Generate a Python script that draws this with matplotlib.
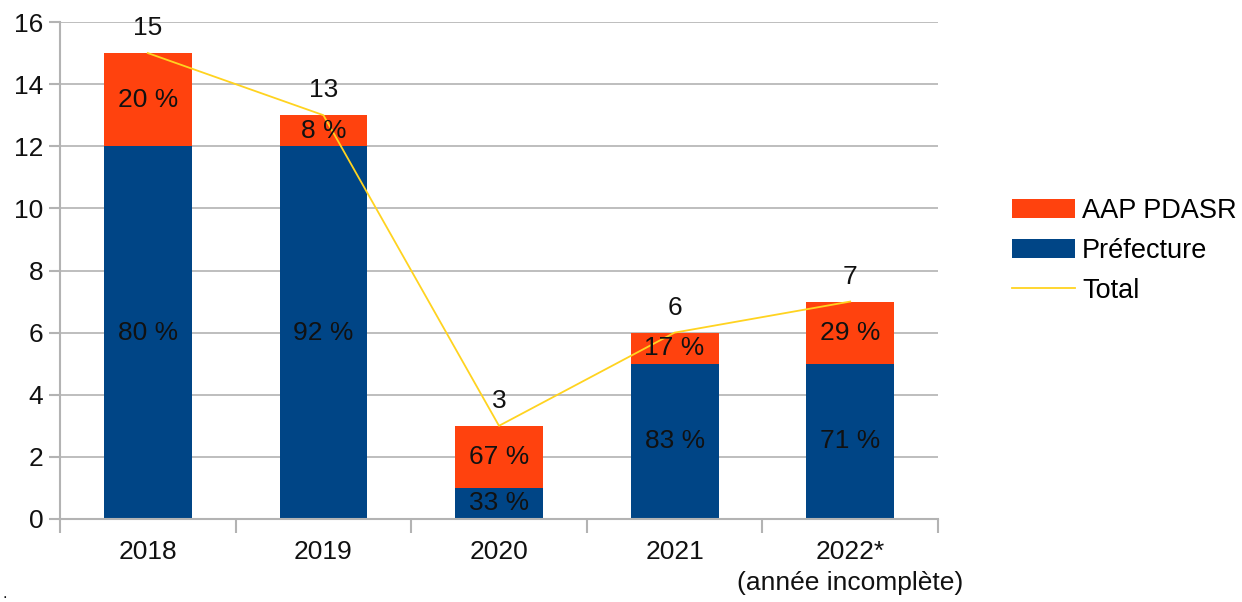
import matplotlib
matplotlib.use("Agg")
import matplotlib.pyplot as plt
import numpy as np

categories = ["2018", "2019", "2020", "2021", "2022*\n(année incomplète)"]
prefecture = [12, 12, 1, 5, 5]
aap_pdasr = [3, 1, 2, 1, 2]
totals = [15, 13, 3, 6, 7]
pct_prefecture = ["80 %", "92 %", "33 %", "83 %", "71 %"]
pct_aap = ["20 %", "8 %", "67 %", "17 %", "29 %"]

plt.rcParams['font.family'] = ['Liberation Sans', 'DejaVu Sans']

C_ORANGE = "#FF420E"
C_BLUE = "#004586"
C_YELLOW = "#FFD320"
C_GRID = "#B3B3B3"

fig = plt.figure(figsize=(12.42, 6.02), dpi=100)
ax = fig.add_axes([60/1242, 1-519/602, 878/1242, (519-22)/602])

x = np.arange(len(categories))
w = 0.5
ax.bar(x, prefecture, width=w, color=C_BLUE, label="Préfecture", zorder=2)
ax.bar(x, aap_pdasr, width=w, bottom=prefecture, color=C_ORANGE, label="AAP PDASR", zorder=2)
ax.plot(x, totals, color=C_YELLOW, lw=1.3, label="Total", zorder=3)

fs = 19
for i in range(len(x)):
    ax.text(x[i], prefecture[i]/2, pct_prefecture[i], ha="center", va="center", fontsize=fs, color="#111111", zorder=4)
    ax.text(x[i], prefecture[i] + aap_pdasr[i]/2, pct_aap[i], ha="center", va="center", fontsize=fs, color="#111111", zorder=4)
    ax.annotate(str(totals[i]), (x[i], totals[i]), xytext=(0, 18), textcoords="offset points",
                ha="center", va="center", fontsize=fs, color="#111111", zorder=4)

ax.set_xlim(-0.5, len(x) - 0.5)
ax.set_ylim(0, 16)
ax.set_yticks(np.arange(0, 17, 2))
ax.yaxis.grid(True, color=C_GRID, lw=1.2, zorder=0)
ax.set_axisbelow(True)

ax.set_xticks(x)
ax.set_xticklabels(categories, fontsize=fs, color="#111111", linespacing=1.38)
ax.tick_params(axis="x", length=0, pad=15)
ax.set_xticks(np.arange(-0.5, len(x), 1), minor=True)
ax.tick_params(axis="x", which="minor", length=10, color=C_GRID, width=1.5)
ax.tick_params(axis="y", labelsize=fs, length=8, color=C_GRID, width=1.5, labelcolor="#111111", pad=4)

for s in ["top", "right"]:
    ax.spines[s].set_visible(False)
for s in ["left", "bottom"]:
    ax.spines[s].set_color(C_GRID)
    ax.spines[s].set_linewidth(1.5)

handles, labels = ax.get_legend_handles_labels()
order = [labels.index("AAP PDASR"), labels.index("Préfecture"), labels.index("Total")]
leg = fig.legend([handles[i] for i in order], [labels[i] for i in order],
                 loc="center left", bbox_to_anchor=(988/1242, 1-251/602), frameon=False,
                 fontsize=19.5, handlelength=2.3, handleheight=0.75, handletextpad=0.28, labelspacing=0.52)

fig.text(2/1242, 1-594/602, ".", fontsize=12, color="#111111", ha="left", va="center")

fig.savefig("out.png", dpi=100)
